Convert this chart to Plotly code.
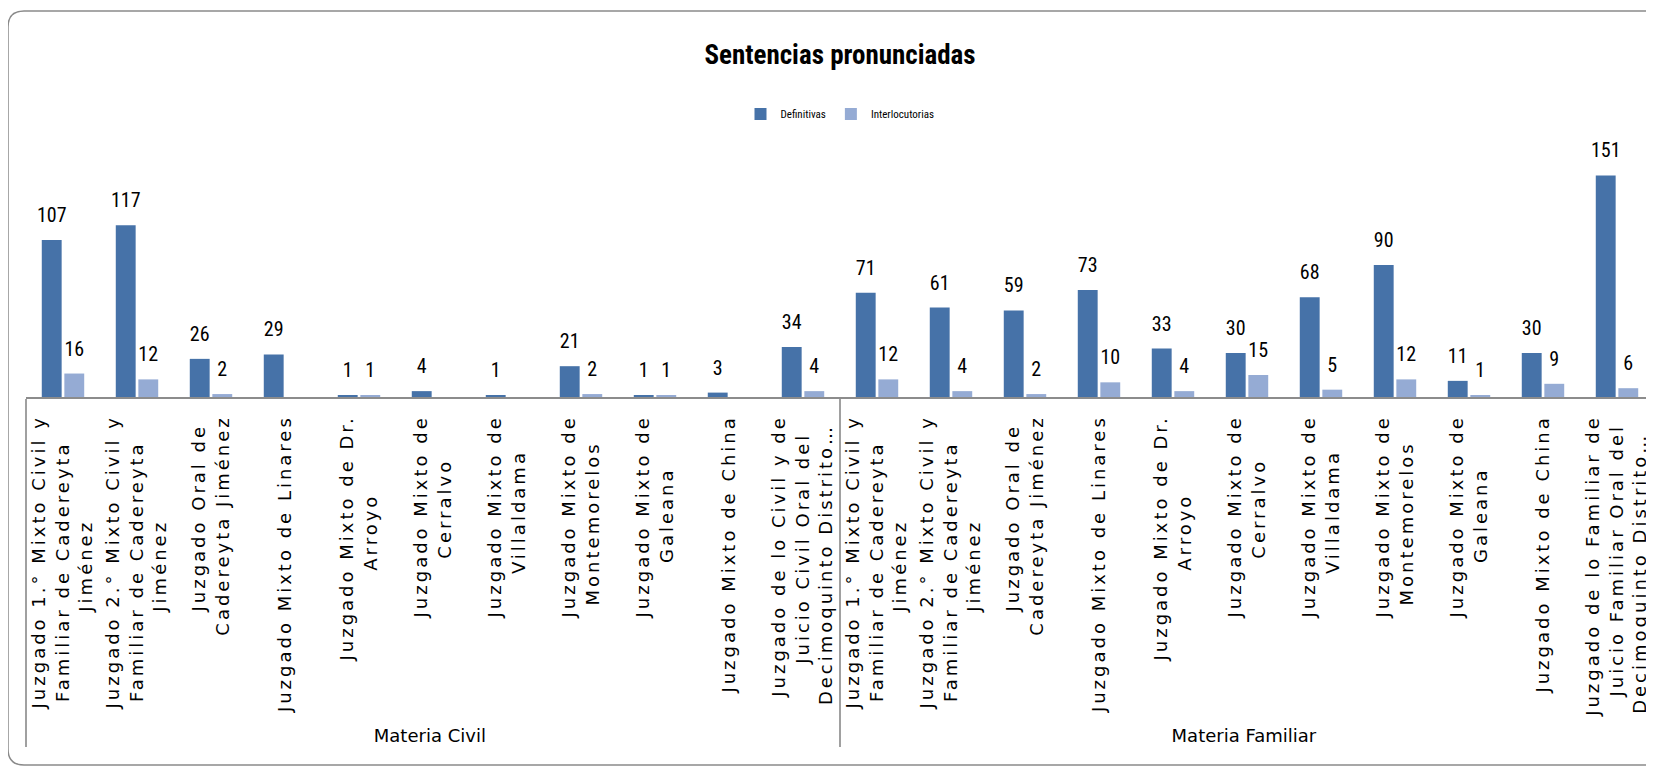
import plotly.graph_objs as go

DARK = '#4672A8'
LIGHT = '#95ABD4'

grupos = ['Materia Civil'] * 11 + ['Materia Familiar'] * 11

juzgados_civil = [
    'Juzgado 1.° Mixto Civil y<br>Familiar de Cadereyta<br>Jiménez',
    'Juzgado 2.° Mixto Civil y<br>Familiar de Cadereyta<br>Jiménez',
    'Juzgado Oral de<br>Cadereyta Jiménez',
    'Juzgado Mixto de Linares',
    'Juzgado Mixto de Dr.<br>Arroyo',
    'Juzgado Mixto de<br>Cerralvo',
    'Juzgado Mixto de<br>Villaldama',
    'Juzgado Mixto de<br>Montemorelos',
    'Juzgado Mixto de<br>Galeana',
    'Juzgado Mixto de China',
    'Juzgado de lo Civil y de<br>Juicio Civil Oral del<br>Decimoquinto Distrito…',
]
juzgados_familiar = juzgados_civil[:10] + [
    'Juzgado de lo Familiar de<br>Juicio Familiar Oral del<br>Decimoquinto Distrito…',
]
juzgados = juzgados_civil + juzgados_familiar

definitivas = [107, 117, 26, 29, 1, 4, 1, 21, 1, 3, 34,
               71, 61, 59, 73, 33, 30, 68, 90, 11, 30, 151]
interlocutorias = [16, 12, 2, None, 1, None, None, 2, 1, None, 4,
                   12, 4, 2, 10, 4, 15, 5, 12, 1, 9, 6]

NARROW = 'Liberation Sans Narrow, Roboto Condensed, Roboto, sans-serif'

# the page body has an 8px margin, so lay out in figure coordinates
OFF = 8
W, H = 1654 - OFF, 767 - OFF
PLOT_L, PLOT_T, BASE = 26 - OFF, 130 - OFF, 397 - OFF
px_w, px_h = W - PLOT_L, BASE - PLOT_T


def tick_label(text):
    # rotated labels are end-anchored; pad short lines so they look centred
    lines = text.split('<br>')
    longest = max(len(s) for s in lines)
    out = []
    for s in lines:
        pad = int(round((longest - len(s)) / 2 * 1.35))
        out.append('<span style="letter-spacing:3px">' + s + '\u00a0' * pad + '</span>')
    return '<br>'.join(out)


def bar_trace(name, values, color):
    return go.Bar(
        name=name,
        x=[grupos, [tick_label(j) for j in juzgados]],
        y=values,
        marker=dict(color=color, line=dict(width=0)),
        # small invisible second line lifts the value a little off the bar
        texttemplate='<span style="font-size:20px">%{y}</span>'
                     '<br><span style="color:rgba(0,0,0,0)">.</span>',
        textposition='outside',
        textfont=dict(family=NARROW, size=10, color='#000000'),
        constraintext='none',
        cliponaxis=False,
    )


# frame of the chart area (rounded top-left corner), in paper units
x0 = (8 - 26) / px_w
yt = (397 - 11) / px_h
yb = (397 - 765) / px_h
rx, ry = 16 / px_w, 16 / px_h
frame = (f'M 1.05,{yt} L {x0 + rx},{yt} Q {x0},{yt} {x0},{yt - ry} '
         f'L {x0},{yb + ry} Q {x0},{yb} {x0 + rx},{yb} L 1.05,{yb}')

fig = go.Figure(
    data=[bar_trace('Definitivas', definitivas, DARK),
          bar_trace('Interlocutorias', interlocutorias, LIGHT)],
    layout=go.Layout(
        width=W,
        height=H,
        paper_bgcolor='white',
        plot_bgcolor='white',
        barmode='group',
        bargap=0.39,
        bargroupgap=0.12,
        title=dict(
            text='<b>Sentencias pronunciadas</b>',
            x=0.5, xref='paper', xanchor='center',
            y=1 - (55 - OFF) / H, yanchor='middle',
            font=dict(family=NARROW, size=27, color='#000000'),
        ),
        legend=dict(
            orientation='h',
            x=0.5, xanchor='center',
            y=(397 - 114) / px_h, yanchor='middle',
            font=dict(family=NARROW, size=11, color='#000000'),
            itemwidth=30,
            traceorder='normal',
        ),
        xaxis=go.layout.XAxis(
            type='multicategory',
            tickangle=-90,
            tickfont=dict(family='DejaVu Sans', size=18, color='#000000'),
            ticklabelstandoff=9,
            showline=True,
            linecolor='#8C8C8C',
            linewidth=2,
            ticks='',
            showdividers=True,
            dividercolor='#A0A0A0',
            dividerwidth=1.5,
            automargin=False,
            fixedrange=True,
        ),
        yaxis=go.layout.YAxis(
            range=[0, 182],
            visible=False,
            automargin=False,
            fixedrange=True,
        ),
        shapes=[dict(type='path', path=frame, xref='paper', yref='paper',
                     line=dict(color='#8A8A8A', width=1.5), layer='below')],
        margin=go.layout.Margin(l=PLOT_L, r=0, t=PLOT_T, b=H - BASE, pad=0,
                                autoexpand=False),
        showlegend=True,
    ),
)

fig.write_html('out.html')
